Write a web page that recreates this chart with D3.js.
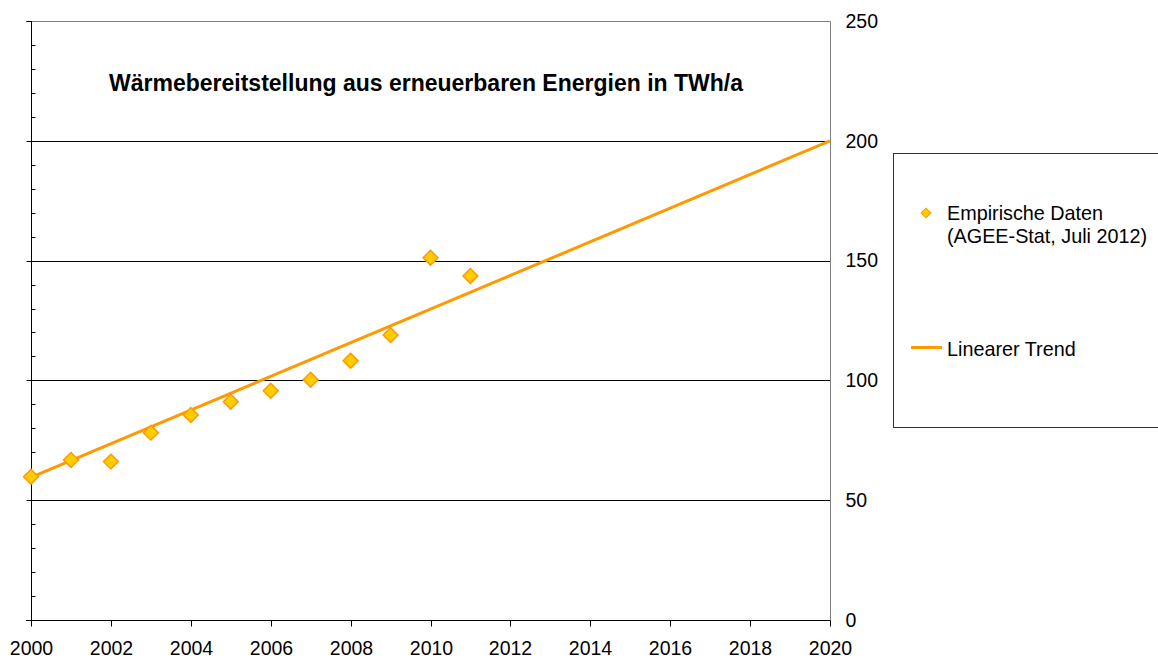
<!DOCTYPE html>
<html>
<head>
<meta charset="utf-8">
<script src="https://cdn.jsdelivr.net/npm/d3@7"></script>
<style>
  html, body { margin: 0; padding: 0; background: #fff; }
  svg { display: block; font-family: "Liberation Sans", Arial, Helvetica, sans-serif; }
</style>
</head>
<body>
<svg id="chart" width="1158" height="660"></svg>
<script>
// ---- Data ----
const years = [2000, 2001, 2002, 2003, 2004, 2005, 2006, 2007, 2008, 2009, 2010, 2011];
const heatValues = [59.8, 66.8, 66.1, 78.2, 85.6, 91.1, 95.7, 100.3, 108.2, 118.9, 151.2, 143.6];
const trendYears = [2000, 2020];
const trendValues = [59.5, 200];
const xTicks = [2000, 2002, 2004, 2006, 2008, 2010, 2012, 2014, 2016, 2018, 2020];
const yTicks = [0, 50, 100, 150, 200, 250];
const yMinorTicks = [10, 20, 30, 40, 60, 70, 80, 90, 110, 120, 130, 140, 160, 170, 180, 190, 210, 220, 230, 240];
const titleText = "Wärmebereitstellung aus erneuerbaren Energien in TWh/a";
const legendLabels = ["Empirische Daten", "(AGEE-Stat, Juli 2012)", "Linearer Trend"];

// ---- Layout ----
const svg = d3.select("#chart");
const pLeft = 31, pRight = 830, pTop = 21, pBottom = 620;
const x = d3.scaleLinear().domain([2000, 2020]).range([pLeft, pRight]);
const y = d3.scaleLinear().domain([0, 250]).range([pBottom, pTop]);

const markFill = "#FFCC00", markStroke = "#FF9900", lineColor = "#FF9900";
const labelSize = 19.5;

// Gridlines (inner)
svg.append("g").selectAll("line")
  .data(yTicks.filter(v => v > 0 && v < 250))
  .join("line")
  .attr("x1", pLeft).attr("x2", pRight)
  .attr("y1", d => Math.round(y(d)) + 0.5).attr("y2", d => Math.round(y(d)) + 0.5)
  .attr("stroke", "#000").attr("stroke-width", 1);

// Top border & right border (gray)
svg.append("line").attr("x1", pLeft - 5).attr("x2", pRight + 0.5)
  .attr("y1", Math.round(y(250)) + 0.5).attr("y2", Math.round(y(250)) + 0.5)
  .attr("stroke", "#808080");
svg.append("line").attr("x1", pRight + 0.5).attr("x2", pRight + 0.5)
  .attr("y1", Math.round(y(250)) + 0.5).attr("y2", pBottom + 4)
  .attr("stroke", "#808080");

// Left axis: major ticks outward, minor ticks inward
const leftMajor = svg.append("g").attr("transform", `translate(${pLeft + 0.5},0)`)
  .call(d3.axisLeft(y).tickValues(yTicks).tickSize(5).tickFormat(""));
leftMajor.selectAll(".tick").attr("transform", d => `translate(0,${Math.round(y(d)) + 0.5})`);
leftMajor.select(".domain").attr("d", `M0,${pTop}V${pBottom}`).attr("stroke", "#000");
const leftMinor = svg.append("g").attr("transform", `translate(${pLeft + 0.5},0)`)
  .call(d3.axisRight(y).tickValues(yMinorTicks).tickSize(4).tickFormat(""));
leftMinor.selectAll(".tick").attr("transform", d => `translate(0,${Math.round(y(d)) + 0.5})`);
leftMinor.select(".domain").remove();

// Right axis labels
const rightAxis = svg.append("g").attr("transform", `translate(${pRight},0)`)
  .call(d3.axisRight(y).tickValues(yTicks).tickSize(0).tickPadding(15.5));
rightAxis.select(".domain").remove();
rightAxis.selectAll("text").attr("font-size", labelSize).attr("fill", "#000")
  .attr("font-family", "Liberation Sans, Arial, sans-serif");

// Bottom axis
const bottomAxis = svg.append("g").attr("transform", `translate(0,${pBottom + 0.5})`)
  .call(d3.axisBottom(x).tickValues(xTicks).tickSize(6).tickPadding(14.5).tickFormat(d3.format("d")));
bottomAxis.selectAll(".tick").attr("transform", d => `translate(${Math.round(x(d)) + 0.5},0)`);
bottomAxis.select(".domain").attr("d", `M${pLeft - 5},0H${pRight}`).attr("stroke", "#000");
bottomAxis.selectAll("text").attr("font-size", labelSize).attr("fill", "#000")
  .attr("font-family", "Liberation Sans, Arial, sans-serif");

// Trend line
const line = d3.line().x(d => x(d[0])).y(d => y(d[1]));
svg.append("path")
  .datum(trendYears.map((t, i) => [t, trendValues[i]]))
  .attr("d", line)
  .attr("fill", "none").attr("stroke", lineColor).attr("stroke-width", 3);

// Data points (diamonds)
const diamond = d3.symbol().type(d3.symbolSquare).size(110);
svg.append("g").selectAll("path")
  .data(years.map((t, i) => [t, heatValues[i]]))
  .join("path")
  .attr("d", diamond)
  .attr("transform", d => `translate(${x(d[0])},${y(d[1])}) rotate(45)`)
  .attr("fill", markFill).attr("stroke", markStroke).attr("stroke-width", 1.5);

// Title
svg.append("text")
  .attr("x", 426).attr("y", 91)
  .attr("text-anchor", "middle")
  .attr("font-size", 23).attr("font-weight", "bold")
  .text(titleText);

// Legend
const lg = svg.append("g");
lg.append("rect").attr("x", 893.5).attr("y", 153.5).attr("width", 300).attr("height", 274)
  .attr("fill", "#fff").attr("stroke", "#333");
lg.append("path").attr("d", d3.symbol().type(d3.symbolSquare).size(48))
  .attr("transform", "translate(926,213) rotate(45)")
  .attr("fill", markFill).attr("stroke", markStroke).attr("stroke-width", 1);
lg.append("text").attr("x", 947).attr("y", 219.5).attr("font-size", 19.8).text(legendLabels[0]);
lg.append("text").attr("x", 947).attr("y", 242.5).attr("font-size", 19.8).text(legendLabels[1]);
lg.append("line").attr("x1", 911).attr("x2", 942).attr("y1", 347.5).attr("y2", 347.5)
  .attr("stroke", lineColor).attr("stroke-width", 3);
lg.append("text").attr("x", 947).attr("y", 355.5).attr("font-size", 19.8).text(legendLabels[2]);
</script>
</body>
</html>
